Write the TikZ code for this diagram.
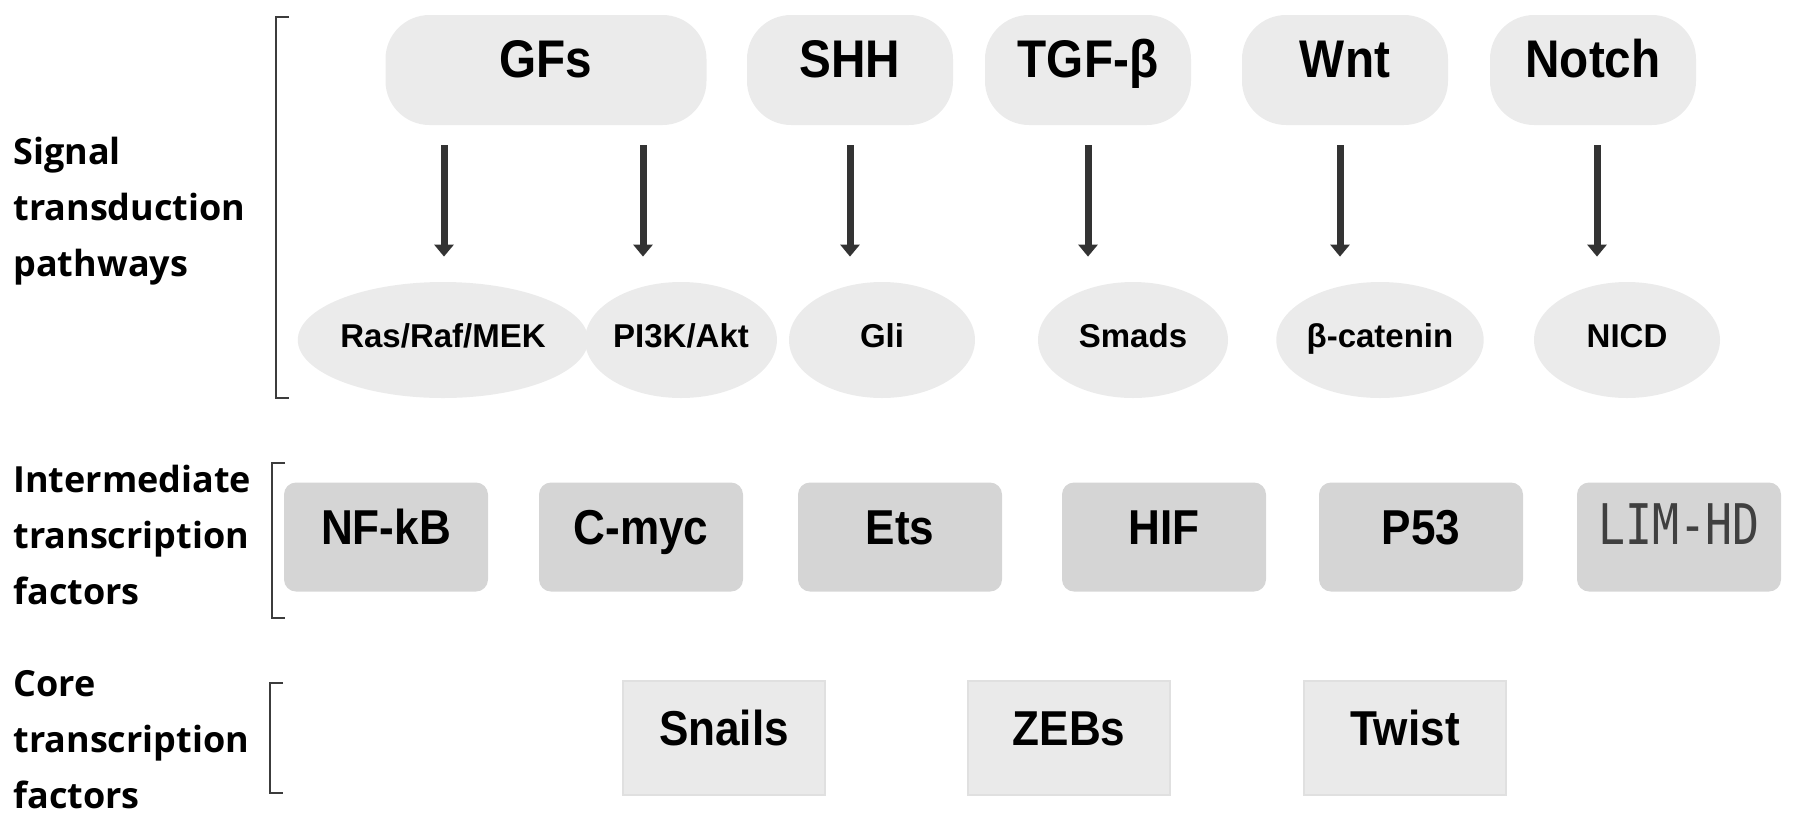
\documentclass[tikz,border=0pt]{standalone}
\usepackage{fontspec}
\setmainfont{Liberation Sans}
\newfontfamily\boxfont[FakeStretch=0.9]{Liberation Sans}
\newfontfamily\sidefont{Open Sans}
\newfontfamily\lhfont{DejaVu Sans Mono}
\usetikzlibrary{shapes.geometric,arrows.meta}

\definecolor{pillgray}{HTML}{EBEBEB}
\definecolor{midgray}{HTML}{D5D5D5}
\definecolor{coregray}{HTML}{EAEAEA}
\definecolor{arrowgray}{HTML}{333333}
\definecolor{bracketgray}{HTML}{3C3C3C}

\tikzset{
  pathway/.style={fill=pillgray, rounded corners=22pt, minimum width=#1,
    minimum height=55pt, inner sep=0pt,
    font=\boxfont\bfseries\fontsize{26.5}{30}\selectfont, text height=1.38ex, text depth=0pt},
  mediator/.style={ellipse, fill=pillgray, minimum width=#1, minimum height=58pt,
    inner sep=0pt, font=\fontsize{16.5}{20}\selectfont\bfseries,
    text height=1.38ex, text depth=0pt},
  midbox/.style={fill=midgray, rounded corners=6pt, minimum width=102pt,
    minimum height=54.5pt, inner sep=0pt,
    font=\boxfont\bfseries\fontsize{24.5}{28}\selectfont, text height=1.38ex, text depth=0pt},
  corebox/.style={fill=coregray, draw=black!12, line width=0.6pt, minimum width=101pt,
    minimum height=57pt, inner sep=0pt,
    font=\boxfont\bfseries\fontsize{24.5}{28}\selectfont, text height=1.38ex, text depth=0pt},
  sidelabel/.style={anchor=west, align=left, inner sep=0pt,
    font=\sidefont\bfseries\fontsize{18}{28}\selectfont},
  patharrow/.style={draw=arrowgray, line width=3.5pt,
    -{Triangle[length=6pt,width=9.5pt]}, shorten <=10pt, shorten >=12.5pt},
  bracket/.style={draw=bracketgray, line width=1.4pt},
}

\begin{document}
\begin{tikzpicture}[x=0.5pt, y=-0.5pt]
    % --- Canvas (pixel grid of the figure, y downwards) ---
    \useasboundingbox (0,0) rectangle (1795,826);
    \def\rowTop{70}      % signal ligands
    \def\rowMed{340}     % pathway mediators
    \def\rowMid{537}     % intermediate transcription factors
    \def\rowCore{738}    % core transcription factors

    % --- Row labels ---
    \node[sidelabel] (lbl-signal) at (13,211) {Signal\\transduction\\pathways};
    \node[sidelabel] (lbl-inter) at (13,535) {Intermediate\\transcription\\factors};
    \node[sidelabel] (lbl-core) at (13,740) {Core\\transcription\\factors};

    % --- Brackets ---
    \draw[bracket] (289,17) -- (276,17) -- (276,398) -- (289,398);
    \draw[bracket] (285,463) -- (272,463) -- (272,618) -- (285,618);
    \draw[bracket] (283,683) -- (270,683) -- (270,793) -- (283,793);

    % --- Signal ligands ---
    \node[pathway=160.5pt] (gfs) at (546,\rowTop) {GFs};
    \node[pathway=103pt] (shh) at (850,\rowTop) {SHH};
    \node[pathway=103pt] (tgf) at (1088,\rowTop) {TGF-β};
    \node[pathway=103pt] (wnt) at (1345,\rowTop) {Wnt};
    \node[pathway=103pt] (notch) at (1593,\rowTop) {Notch};

    % --- Pathway mediators ---
    \node[mediator=134pt] (ras) at (443,\rowMed) {Ras/Raf/MEK};
    \node[mediator=94pt] (pik) at (681,\rowMed) {PI3K/Akt};
    \node[mediator=93pt] (gli) at (882,\rowMed) {Gli};
    \node[mediator=95pt] (smad) at (1133,\rowMed) {Smads};
    \node[mediator=97pt] (bcat) at (1380,\rowMed) {β-catenin};
    \node[mediator=93pt] (nicd) at (1627,\rowMed) {NICD};

    % --- Arrows ligand -> mediator ---
    \foreach \src/\dst/\ax in {gfs/ras/444, gfs/pik/643, shh/gli/850,
                               tgf/smad/1088, wnt/bcat/1340, notch/nicd/1597}{
      \coordinate (x-\dst) at (\ax,0);
      \draw[patharrow] (x-\dst |- \src.south) -- (x-\dst |- \dst.north);
    }

    % --- Intermediate transcription factors ---
    \node[midbox] (nfkb) at (386,\rowMid) {NF-kB};
    \node[midbox] (cmyc) at (641,\rowMid) {C-myc};
    \node[midbox] (ets) at (900,\rowMid) {Ets};
    \node[midbox] (hif) at (1164,\rowMid) {HIF};
    \node[midbox] (p53) at (1421,\rowMid) {P53};
    \node[midbox] (limhd) at (1679,\rowMid)
      {\lhfont\mdseries\fontsize{28}{30}\selectfont\color{black!75}\scalebox{0.8}[1]{LIM-HD}};

    % --- Core transcription factors ---
    \node[corebox] (snails) at (724,\rowCore) {Snails};
    \node[corebox] (zebs) at (1069,\rowCore) {ZEBs};
    \node[corebox] (twist) at (1405,\rowCore) {Twist};

\end{tikzpicture}
\end{document}
